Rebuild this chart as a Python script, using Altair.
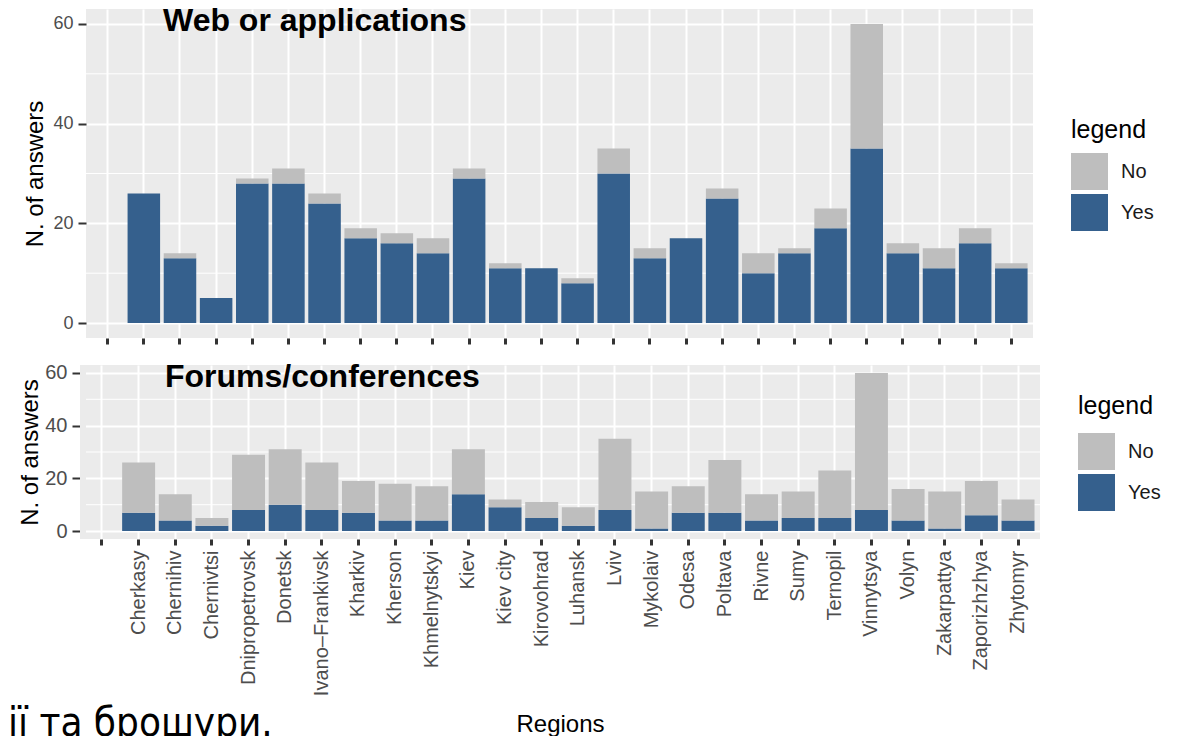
import altair as alt
import pandas as pd

regions = [" ", "Cherkasy", "Chernihiv", "Chernivtsi", "Dnipropetrovsk", "Donetsk",
           "Ivano–Frankivsk", "Kharkiv", "Kherson", "Khmelnytskyi", "Kiev", "Kiev city",
           "Kirovohrad", "Luhansk", "Lviv", "Mykolaiv", "Odesa", "Poltava", "Rivne",
           "Sumy", "Ternopil", "Vinnytsya", "Volyn", "Zakarpattya", "Zaporizhzhya", "Zhytomyr"]

web_total = [0, 26, 14, 5, 29, 31, 26, 19, 18, 17, 31, 12, 11, 9, 35, 15, 17, 27, 14, 15, 23, 60, 16, 15, 19, 12]
web_yes = [0, 26, 13, 5, 28, 28, 24, 17, 16, 14, 29, 11, 11, 8, 30, 13, 17, 25, 10, 14, 19, 35, 14, 11, 16, 11]

forum_total = [0, 26, 14, 5, 29, 31, 26, 19, 18, 17, 31, 12, 11, 9, 35, 15, 17, 27, 14, 15, 23, 60, 16, 15, 19, 12]
forum_yes = [0, 7, 4, 2, 8, 10, 8, 7, 4, 4, 14, 9, 5, 2, 8, 1, 7, 7, 4, 5, 5, 8, 4, 1, 6, 4]

answers = ["No", "Yes"]
answer_colors = ["#BEBEBE", "#35608D"]
y_ticks = [0, 20, 40, 60]
y_minor = [10, 30, 50]

FONT = "Liberation Sans"
NARROW = "Liberation Sans Narrow, DejaVu Sans Condensed, Liberation Sans"
PANEL_BG = "#EBEBEB"


def make_df(total, yes):
    rows = []
    for r, t, y in zip(regions, total, yes):
        if t == 0:
            continue
        rows.append({"region": r, "answer": "Yes", "value": y, "ord": 0})
        rows.append({"region": r, "answer": "No", "value": t - y, "ord": 1})
    return pd.DataFrame(rows)


def panel(df, title, width, height, bottom, legend_x, legend_y, legend_tpad,
          title_x, title_y, ytitle_x, ylab_size, left_edge, shift=0):
    yscale = alt.Scale(domain=[-3, 63], nice=False, zero=False)
    if shift:
        xscale = alt.Scale(domain=regions, paddingInner=0.1, paddingOuter=0.15,
                           range=[-shift, width])
    else:
        xscale = alt.Scale(domain=regions, paddingInner=0.1, paddingOuter=0.15)
    if bottom:
        xaxis = alt.Axis(labelAngle=-90, labelFontSize=20, labelColor="#4D4D4D",
                         labelPadding=5, labelFont=FONT,
                         title="Regions", titleFontSize=24, titleFontWeight="normal",
                         titleColor="#000000", titleFont=FONT,
                         titleBaseline="alphabetic", titleY=192,
                         ticks=True, tickSize=6, tickWidth=3, tickColor="#333333",
                         domain=False, grid=True, gridColor="#FFFFFF", gridWidth=2,
                         bandPosition=0.5)
    else:
        xaxis = alt.Axis(labels=False, title=None,
                         ticks=True, tickSize=6, tickWidth=3, tickColor="#333333",
                         domain=False, grid=True, gridColor="#FFFFFF", gridWidth=2,
                         bandPosition=0.5)
    yaxis = alt.Axis(values=y_ticks, labelFontSize=ylab_size, labelColor="#4D4D4D",
                     labelFont=FONT, labelPadding=5, offset=shift,
                     tickSize=8, tickWidth=2, tickColor="#333333",
                     domain=False, grid=True, gridColor="#FFFFFF", gridWidth=2,
                     title="N. of answers", titleFontSize=24, titleFontWeight="normal",
                     titleColor="#000000", titleFont=FONT, titleX=ytitle_x,
                     titleBaseline="alphabetic")

    layers = []
    if shift:
        ext = alt.Chart(pd.DataFrame({"a": [0]})).mark_rect(color=PANEL_BG).encode(
            x=alt.value(-shift), x2=alt.value(0), y=alt.value(0), y2=alt.value(height))
        layers.append(ext)

    minor = alt.Chart(pd.DataFrame({"v": y_minor})).mark_rule(
        color="#FFFFFF", strokeWidth=1
    ).encode(y=alt.Y("v:Q", scale=yscale, axis=yaxis))
    layers.append(minor)

    bars = alt.Chart(df).mark_bar().encode(
        x=alt.X("region:N", sort=regions, scale=xscale, axis=xaxis),
        y=alt.Y("value:Q", stack="zero", scale=yscale, axis=yaxis),
        color=alt.Color("answer:N",
                        scale=alt.Scale(domain=answers, range=answer_colors),
                        legend=alt.Legend(orient="none", legendX=legend_x, legendY=legend_y,
                                          direction="vertical",
                                          title="legend", titleFontSize=25,
                                          titleFontWeight="normal", titleColor="#000000",
                                          titleFont=FONT, titlePadding=legend_tpad,
                                          labelFontSize=20, labelColor="#1A1A1A",
                                          labelFont=FONT, labelOffset=13,
                                          symbolType="square", symbolSize=1369,
                                          symbolStrokeWidth=0, symbolOpacity=1,
                                          rowPadding=4, padding=0)),
        order=alt.Order("ord:Q", sort="ascending"),
    )
    layers.append(bars)

    ttl = alt.Chart(pd.DataFrame({"t": [title]})).mark_text(
        align="left", baseline="alphabetic", fontSize=32, fontWeight="bold",
        font=FONT, color="#000000"
    ).encode(text="t:N", x=alt.value(title_x), y=alt.value(title_y))
    layers.append(ttl)

    txt, lx, ly, fs, fnt, op = left_edge
    edge = alt.Chart(pd.DataFrame({"t": [txt]})).mark_text(
        align="left", baseline="alphabetic", fontSize=fs, font=fnt, color="#000000",
        opacity=op
    ).encode(text="t:N", x=alt.value(lx), y=alt.value(ly))
    layers.append(edge)

    return alt.layer(*layers).properties(width=width, height=height)


web_df = make_df(web_total, web_yes)
forum_df = make_df(forum_total, forum_yes)

# top panel: plot area starts 78px right of the chart's left edge
top = panel(web_df, "Web or applications", 947, 329, False,
            985, 109, 10, 77, 22, -44, 18, (".", -78, 150, 10, FONT, 0))
# bottom panel: drawn 6px further left than the top one, as in the source figure
bottom = panel(forum_df, "Forums/conferences", 954, 174, True,
               992, 29, 14, 79, 22, -43, 20,
               ("ії та брошури.", -78, 371, 40, NARROW, 1), shift=6)

chart = alt.vconcat(top, bottom, spacing=15).resolve_scale(
    color="independent", x="independent", y="independent"
).resolve_legend(color="independent").properties(
    padding={"left": 0, "top": -3, "right": 0, "bottom": 0}
).configure(font=FONT).configure_view(fill=PANEL_BG, strokeWidth=0)

chart.save("out.html", embed_options={"renderer": "svg", "actions": False})
